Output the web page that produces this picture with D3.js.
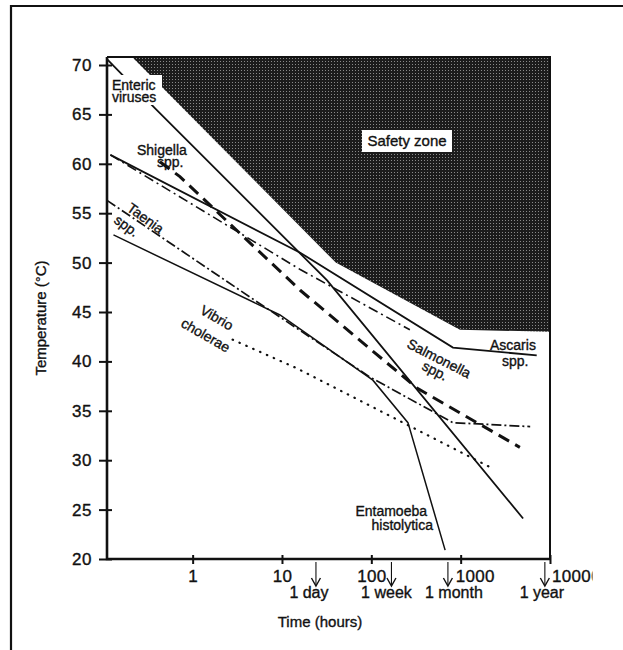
<!DOCTYPE html>
<html><head><meta charset="utf-8">
<script src="https://cdn.jsdelivr.net/npm/d3@7/dist/d3.min.js"></script>
<style>
body{margin:0;background:#fff}
text{font-family:"Liberation Sans",Arial,Helvetica,sans-serif;fill:#111;stroke:#111;stroke-width:0.35px}
</style>
</head><body>
<svg id="c" width="623" height="650"></svg>
<script>
// ---------------- data (hours, °C) ----------------
const xTicks = [1, 10, 100, 1000, 10000];
const xTickLabels = ["1", "10", "100", "1000", "10000"];
const yTicks = [20, 25, 30, 35, 40, 45, 50, 55, 60, 65, 70];
const markerLabels = ["1 day", "1 week", "1 month", "1 year"];
const markerHours = [24, 168, 720, 8760];

const safetyZone = [[0.21, 70.8], [40, 50.0], [980, 43.2], [10000, 43.0]];
const entericViruses = [[0.11, 70.6], [0.38, 65.6], [32, 48.2], [5000, 24.1]];
const ascaris = [[0.12, 60.9], [16, 51.0], [820, 41.4], [7100, 40.6]];
const salmonella = [[0.12, 60.9], [16, 49.3], [270, 43.2]];
const shigella = [[0.43, 60.2], [0.72, 58.7], [16, 47.2], [324, 37.3], [4600, 31.3]];
const taenia = [[0.11, 56.3], [4.4, 46.5], [97, 38.4], [820, 33.8], [6000, 33.4]];
const entamoeba = [[0.13, 52.8], [9.5, 44.7], [104, 38.1], [257, 33.8], [670, 20.9]];
const vibrio = [[2.8, 42.2], [14.7, 39.3], [2130, 29.3]];

// ---------------- layout ----------------
const svg = d3.select("#c");
const x = d3.scaleLog().domain([0.11, 10000]).range([107, 550]);
const y = d3.scaleLinear().domain([20, 70]).range([559, 65]);
const yTop = 70.8;
const X0 = x.range()[0], X1 = x.range()[1], Y0 = y(20), Y1 = y(yTop);

// outer frame (top + left only)
svg.append("path").attr("d", "M11,650V6H623").attr("fill", "none")
  .attr("stroke", "#111").attr("stroke-width", 2.2);

// halftone pattern for safety zone
const defs = svg.append("defs");
const pat = defs.append("pattern").attr("id", "ht").attr("width", 3).attr("height", 3)
  .attr("patternUnits", "userSpaceOnUse");
pat.append("rect").attr("width", 3).attr("height", 3).attr("fill", "#1c1c1c");
pat.append("rect").attr("x", 1).attr("y", 1).attr("width", 1).attr("height", 1).attr("fill", "#8a8a8a");
defs.append("clipPath").attr("id", "clipR").append("rect")
  .attr("x", -100).attr("y", -50).attr("width", 142).attr("height", 100);

const line = d3.line().x(d => x(d[0])).y(d => y(d[1]));

// safety zone polygon
const zonePts = [[safetyZone[0][0], yTop], ...safetyZone, [10000, yTop]];
svg.append("path").attr("d", line(zonePts) + "Z").attr("fill", "url(#ht)").attr("stroke", "none");

// series
const series = [
  {name: "Enteric viruses", data: entericViruses, w: 1.8, dash: null},
  {name: "Ascaris spp.", data: ascaris, w: 1.8, dash: null},
  {name: "Salmonella spp.", data: salmonella, w: 1.6, dash: "10,4,2,4"},
  {name: "Shigella spp.", data: shigella, w: 3, dash: "12,7"},
  {name: "Taenia spp.", data: taenia, w: 1.7, dash: "10,3,2,3"},
  {name: "Entamoeba histolytica", data: entamoeba, w: 1.5, dash: null},
  {name: "Vibrio cholerae", data: vibrio, w: 2.2, dash: "0.5,7"}
];
svg.append("g").selectAll("path").data(series).join("path")
  .attr("d", s => line(s.data)).attr("fill", "none").attr("stroke", "#111")
  .attr("stroke-width", s => s.w).attr("stroke-dasharray", s => s.dash)
  .attr("stroke-linecap", s => s.name === "Vibrio cholerae" ? "round" : "butt");

// plot box
svg.append("path").attr("d", `M${X0},${Y1}H${X1}V${Y0}`).attr("fill", "none")
  .attr("stroke", "#111").attr("stroke-width", 2);
svg.append("path").attr("d", `M${X0},${Y1}V${Y0}H${X1}`).attr("fill", "none")
  .attr("stroke", "#111").attr("stroke-width", 2.6);

// y axis
const gy = svg.append("g").attr("transform", `translate(${X0},0)`)
  .call(d3.axisLeft(y).tickValues(yTicks).tickSize(8).tickSizeOuter(0).tickPadding(7));
gy.select(".domain").remove();
gy.selectAll(".tick line").attr("x1", 5).attr("stroke", "#111").attr("stroke-width", 2);
gy.selectAll(".tick text").attr("font-size", 17).attr("fill", "#111")
  .attr("font-family", "'Liberation Sans',Arial,sans-serif").attr("letter-spacing", 0.5);

// x axis
const xLabelShift = [0, 0, 0, 14, 26];
const gx = svg.append("g").attr("transform", `translate(0,${Y0})`)
  .call(d3.axisBottom(x).tickValues(xTicks).tickFormat((d, i) => xTickLabels[i]).tickSize(5).tickSizeOuter(0));
gx.select(".domain").remove();
gx.selectAll(".tick line").attr("y1", -4).attr("stroke", "#111").attr("stroke-width", 2);
gx.selectAll(".tick text").attr("font-size", 17).attr("fill", "#111")
  .attr("font-family", "'Liberation Sans',Arial,sans-serif").attr("letter-spacing", 0.3)
  .attr("y", 23).attr("dy", 0).attr("dx", (d, i) => xLabelShift[i])
  .attr("clip-path", (d, i) => i === 4 ? "url(#clipR)" : null);

// time markers
const markerShift = [-7, -5, 6, -3];
const gm = svg.append("g");
markerHours.forEach((h, i) => {
  const px = x(h);
  gm.append("line").attr("x1", px).attr("x2", px).attr("y1", Y0 + 3).attr("y2", Y0 + 26)
    .attr("stroke", "#111").attr("stroke-width", 1.1);
  gm.append("path").attr("d", `M${px - 4.5},${Y0 + 19}L${px},${Y0 + 27}L${px + 4.5},${Y0 + 19}`)
    .attr("fill", "none").attr("stroke", "#111").attr("stroke-width", 1.4);
  gm.append("text").attr("x", px + markerShift[i]).attr("y", Y0 + 39).attr("text-anchor", "middle")
    .attr("font-size", 16).text(markerLabels[i]);
});

// axis titles
svg.append("text").attr("x", 320).attr("y", 627).attr("text-anchor", "middle")
  .attr("font-size", 15).text("Time (hours)");
svg.append("text").attr("transform", "translate(46,318) rotate(-90)").attr("text-anchor", "middle")
  .attr("font-size", 15).text("Temperature (°C)");

// safety zone label
svg.append("rect").attr("x", 362).attr("y", 130).attr("width", 90).attr("height", 22).attr("fill", "#fff");
svg.append("text").attr("x", 407).attr("y", 146).attr("text-anchor", "middle")
  .attr("font-size", 15).text("Safety zone");

// species labels
svg.append("rect").attr("x", 110).attr("y", 75).attr("width", 52).attr("height", 30).attr("fill", "#fff");
const labels = [
  {t: "Enteric", x: 112, y: 90, r: 0},
  {t: "viruses", x: 112, y: 102, r: 0},
  {t: "Shigella", x: 137, y: 155, r: 0},
  {t: "spp.", x: 157, y: 167, r: 0},
  {t: "Taenia", x: 126, y: 210, r: 36},
  {t: "spp.", x: 113, y: 222, r: 36},
  {t: "Vibrio", x: 199, y: 313, r: 30},
  {t: "cholerae", x: 180, y: 326, r: 30},
  {t: "Salmonella", x: 406, y: 347, r: 27},
  {t: "spp.", x: 421, y: 369, r: 27},
  {t: "Ascaris", x: 490, y: 350, r: 0},
  {t: "spp.", x: 502, y: 366, r: 0},
  {t: "Entamoeba", x: 427, y: 516, r: 0, a: "end"},
  {t: "histolytica", x: 433, y: 530, r: 0, a: "end"}
];
svg.append("g").selectAll("text").data(labels).join("text")
  .attr("transform", d => `translate(${d.x},${d.y}) rotate(${d.r})`)
  .attr("text-anchor", d => d.a || "start")
  .attr("font-size", 14).text(d => d.t);
</script>
</body></html>
